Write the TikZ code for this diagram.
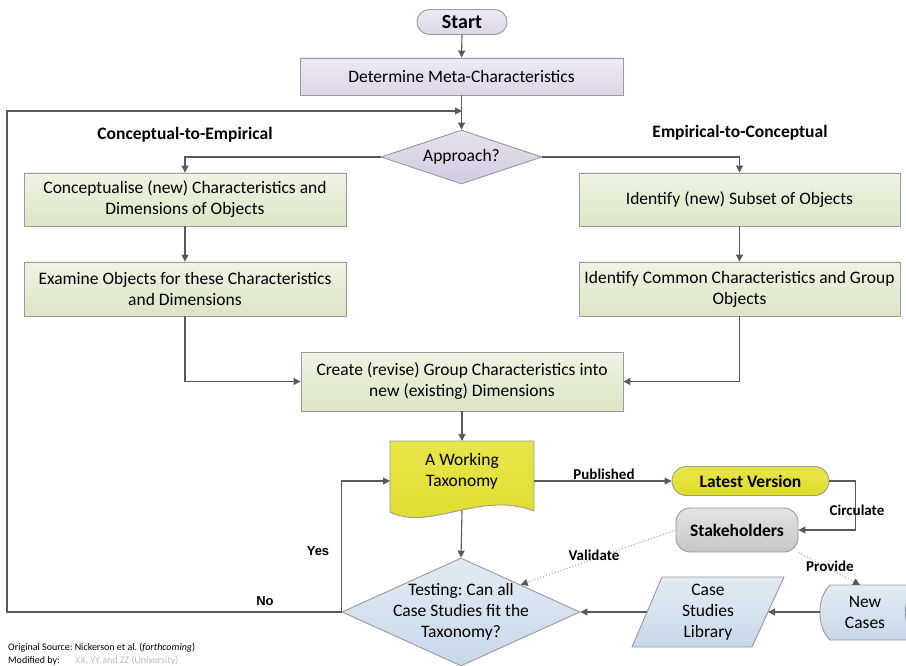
\documentclass[tikz,border=0pt]{standalone}
\usepackage{fontspec}
\setmainfont{Carlito}
\newfontfamily\arialfont{Liberation Sans}
\usetikzlibrary{arrows.meta,shapes.geometric,shapes.misc}
\frenchspacing
\definecolor{linec}{HTML}{595959}
\definecolor{bord}{HTML}{9A9A9A}
\definecolor{lavT}{HTML}{EEEAF4}
\definecolor{lavB}{HTML}{DCD5E7}
\definecolor{aprT}{HTML}{E6E0EE}
\definecolor{aprB}{HTML}{D3CBE0}
\definecolor{grnT}{HTML}{EFF4E4}
\definecolor{grnB}{HTML}{DBE5C5}
\definecolor{yelT}{HTML}{E8E64A}
\definecolor{yelB}{HTML}{DEDC2A}
\definecolor{gryT}{HTML}{E4E4E4}
\definecolor{gryB}{HTML}{C6C6C6}
\definecolor{bluT}{HTML}{E2EBF4}
\definecolor{bluB}{HTML}{C8D8E9}
\definecolor{footc}{HTML}{BDBDBD}
\tikzset{
  boxtxt/.style={font=\fontsize{17.5}{21}\selectfont, align=center},
  gbox/.style={boxtxt, draw=bord, line width=0.9pt, top color=grnT, bottom color=grnB, inner sep=0pt},
  lbox/.style={boxtxt, draw=bord, line width=0.9pt, top color=lavT, bottom color=lavB, inner sep=0pt},
  conn/.style={draw=linec, line width=1.1pt, -{Triangle[length=7pt,width=7pt]}},
  dotconn/.style={draw=gray!65, line width=1.1pt, dotted, -{Triangle[length=7pt,width=7pt,fill=linec,color=linec]}},
  lbl/.style={font=\bfseries\fontsize{15}{18}\selectfont},
  albl/.style={font=\arialfont\bfseries\fontsize{13}{15}\selectfont},
  hdr/.style={font=\bfseries\fontsize{17.5}{21}\selectfont},
  footfont/.style={font=\fontsize{10}{12}\selectfont, inner sep=0pt, anchor=base west}
}
\begin{document}
\begin{tikzpicture}[x=1pt,y=-1pt]
\useasboundingbox (0,0) rectangle (906,666);
% ---- nodes
\node[lbox, rounded corners=12.5pt, minimum width=90, minimum height=25, font=\bfseries\fontsize{20}{22}\selectfont] (start) at (462,22) {Start};
\node[lbox, minimum width=323, minimum height=37] (meta) at (461.5,76.5) {Determine Meta-Characteristics};
\node[diamond, draw=bord, line width=0.9pt, top color=aprT, bottom color=aprB, minimum width=161, minimum height=54, inner sep=0pt] (appr) at (461.5,157) {};
\node[boxtxt] (apprtxt) at (appr) {Approach?};
\node[hdr] (hleft) at (185,135) {Conceptual-to-Empirical};
\node[hdr] (hright) at (740,133) {Empirical-to-Conceptual};
\node[gbox, minimum width=322, minimum height=53] (concept) at (185,199.5) {Conceptualise (new) Characteristics and\\Dimensions of Objects};
\node[gbox, minimum width=321, minimum height=53] (subset) at (739.5,199.5) {Identify (new) Subset of Objects};
\node[gbox, minimum width=322, minimum height=54] (examine) at (185,289) {Examine Objects for these Characteristics\\and Dimensions};
\node[gbox, minimum width=321, minimum height=54] (common) at (739.5,289) {Identify Common Characteristics and Group\\Objects};
\node[gbox, minimum width=322, minimum height=59] (create) at (462,381.5) {Create (revise) Group Characteristics into\\new (existing) Dimensions};
% working taxonomy document shape
\path[draw=bord, line width=0.9pt, top color=yelT, bottom color=yelB]
  (390,441) -- (534,441) -- (534,511) .. controls (480,490) and (430,532) .. (390,512) -- cycle;
\node[boxtxt] (wt) at (462,471) {A Working\\Taxonomy};
\coordinate (wtTop) at (462,441);
\coordinate (wtBot) at (462,510.5);
\coordinate (wtL) at (390,481);
\coordinate (wtR) at (534,481);
% testing diamond
\node[diamond, draw=bord, line width=0.9pt, top color=bluT, bottom color=bluB, minimum width=238, minimum height=108, inner sep=0pt] (test) at (461,612) {};
\node[boxtxt] (testtxt) at (test) {Testing: Can all\\Case Studies fit the\\Taxonomy?};
% latest version & stakeholders
\node[draw=bord, line width=0.9pt, top color=yelT, bottom color=yelB, rounded corners=14.5pt, minimum width=157, minimum height=29, inner sep=0pt, font=\bfseries\fontsize{17.5}{21}\selectfont] (lv) at (750.5,481) {Latest Version};
\node[draw=bord, line width=0.9pt, top color=gryT, bottom color=gryB, rounded corners=14pt, minimum width=122, minimum height=44, inner sep=0pt, font=\bfseries\fontsize{17.5}{21}\selectfont] (stake) at (737,530) {Stakeholders};
% case studies library parallelogram
\path[draw=bord, line width=0.9pt, top color=bluT, bottom color=bluB]
  (662,577) -- (784,577) -- (752,647) -- (632,647) -- cycle;
\node[boxtxt] (csl) at (708,612) {Case\\Studies\\Library};
\coordinate (cslR) at (768,612);
\coordinate (cslL) at (647,612);
% new cases stored data
\begin{scope}
\clip (0,0) rectangle (906,666);
\path[draw=bord, line width=0.9pt, top color=bluT, bottom color=bluB]
  (830,585) .. controls (816.5,598) and (816.5,627) .. (830,640) -- (918,640)
  .. controls (901,627) and (901,598) .. (918,585) -- cycle;
\end{scope}
\node[boxtxt] (nc) at (865,612) {New\\Cases};
\coordinate (ncTop) at (860,585);
\coordinate (ncL) at (820,612);
% ---- connectors
\coordinate (loopend) at (462,111);
\coordinate (lft) at (7,111);
\draw[conn] (start.south) -- (meta.north);
\draw[conn] (meta.south) -- (appr.north);
\draw[conn] (appr.west) -| (concept.north);
\draw[conn] (appr.east) -| (subset.north);
\draw[conn] (concept.south) -- (examine.north);
\draw[conn] (subset.south) -- (common.north);
\draw[conn] (examine.south) |- (create.west);
\draw[conn] (common.south) |- (create.east);
\draw[conn] (create.south) -- (wtTop);
\draw[conn] (wtBot) -- (test.north);
\draw[conn] (test.west) |- (wtL);
\draw[conn] (test.west) -| (lft) -- (loopend);
\draw[conn] (wtR) -- (lv.west);
\draw[conn] (lv.east) -- ++(26,0) |- (stake.east);
\draw[dotconn] (stake.west) -- (test.north east);
\draw[dotconn] (stake.south east) -- (ncTop);
\draw[conn] (ncL) -- (cslR);
\draw[conn] (cslL) -- (test.east);
% ---- labels
\node[lbl] (lpub) at (604,474) {Published};
\node[lbl] (lcirc) at (857,510) {Circulate};
\node[lbl] (lval) at (594,555) {Validate};
\node[lbl] (lprov) at (830,566) {Provide};
\node[albl] (lyes) at (318,551) {Yes};
\node[albl] (lno) at (265,601) {No};
% ---- footnote
\node[footfont] (f1) at (8,650) {Original Source: Nickerson et al. (\textit{forthcoming})};
\node[footfont] (f2) at (8,663) {Modified by:};
\node[footfont, text=footc] (f3) at (75,663) {XX, YY and ZZ (University)};
\end{tikzpicture}
\end{document}
